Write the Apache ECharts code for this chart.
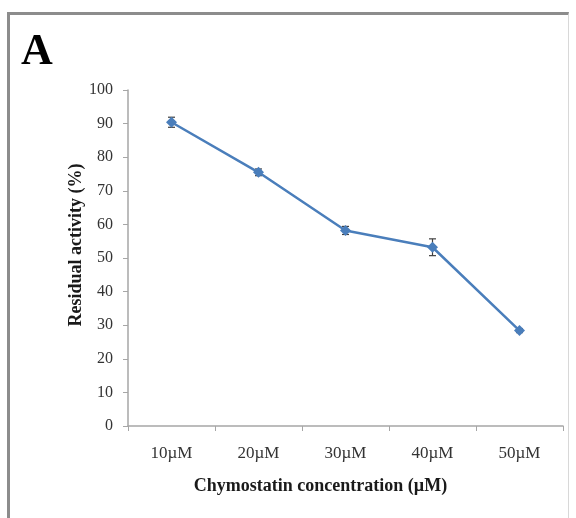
<!DOCTYPE html>
<html>
<head>
<meta charset="utf-8">
<script src="https://cdn.jsdelivr.net/npm/echarts@6/dist/echarts.min.js"></script>
<style>
  html, body { margin: 0; padding: 0; background: #fff; }
  #frame { position: absolute; left: 7px; top: 12px; width: 562px; height: 520px;
           border-left: 3px solid #8c8c8c; border-top: 3px solid #8c8c8c; border-right: 1px solid #d8d8d8; box-sizing: border-box; }
  #chart { position: absolute; left: 0; top: 0; width: 576px; height: 518px; }
</style>
</head>
<body>
<div id="frame"></div>
<div id="chart"></div>
<script>
// Residual activity at each chymostatin concentration (mean and SD)
const categories = ['10µM', '20µM', '30µM', '40µM', '50µM'];
const activity = [90.4, 75.5, 58.2, 53.2, 28.4];
const errors = [1.5, 1.0, 1.2, 2.5, 0.6];
const yTicks = { min: 0, max: 100, interval: 10 };

const serif = '"Liberation Serif", "DejaVu Serif", serif';
const blue = '#4a7ebb';

const chart = echarts.init(document.getElementById('chart'));
chart.setOption({
  animation: false,
  title: {
    text: 'A', left: 16, top: 26,
    textStyle: { fontFamily: serif, fontSize: 44, fontWeight: 'bold', color: '#000' }
  },
  grid: { left: 128, right: 13, top: 90, bottom: 92 },
  xAxis: {
    type: 'category',
    data: categories,
    boundaryGap: true,
    name: 'Chymostatin concentration (µM)',
    nameLocation: 'middle',
    nameGap: 51,
    nameMoveOverlap: false,
    nameTextStyle: { fontFamily: serif, fontSize: 18, fontWeight: 'bold', color: '#1a1a1a', padding: [0, 50, 0, 0] },
    axisLine: { lineStyle: { color: '#a6a6a6', width: 1.5 } },
    axisTick: { show: true, alignWithLabel: false, length: 5, lineStyle: { color: '#a6a6a6' } },
    axisLabel: { fontFamily: serif, fontSize: 17, color: '#333', margin: 19 }
  },
  yAxis: {
    type: 'value',
    min: yTicks.min, max: yTicks.max, interval: yTicks.interval,
    name: 'Residual activity (%)',
    nameLocation: 'middle',
    nameGap: 43,
    nameMoveOverlap: false,
    nameTextStyle: { fontFamily: serif, fontSize: 18, fontWeight: 'bold', color: '#1a1a1a', padding: [0, 0, 0, 26] },
    axisLine: { show: true, lineStyle: { color: '#a6a6a6', width: 1.5 } },
    axisTick: { show: true, length: 5, lineStyle: { color: '#a6a6a6' } },
    axisLabel: { fontFamily: serif, fontSize: 16, color: '#333', margin: 15 },
    splitLine: { show: false }
  },
  series: [
    {
      type: 'line',
      data: activity,
      symbol: 'diamond',
      symbolSize: 11,
      lineStyle: { color: blue, width: 2.5 },
      itemStyle: { color: blue }
    },
    {
      type: 'custom',
      data: activity.map((v, i) => [i, v - errors[i], v + errors[i]]),
      renderItem: function (params, api) {
        const lo = api.coord([api.value(0), api.value(1)]);
        const hi = api.coord([api.value(0), api.value(2)]);
        const w = 3.5;
        const style = { stroke: '#404040', lineWidth: 1.2 };
        return {
          type: 'group',
          children: [
            { type: 'line', shape: { x1: lo[0], y1: lo[1], x2: hi[0], y2: hi[1] }, style },
            { type: 'line', shape: { x1: lo[0] - w, y1: lo[1], x2: lo[0] + w, y2: lo[1] }, style },
            { type: 'line', shape: { x1: hi[0] - w, y1: hi[1], x2: hi[0] + w, y2: hi[1] }, style }
          ]
        };
      },
      z: 3
    }
  ]
});
</script>
</body>
</html>
